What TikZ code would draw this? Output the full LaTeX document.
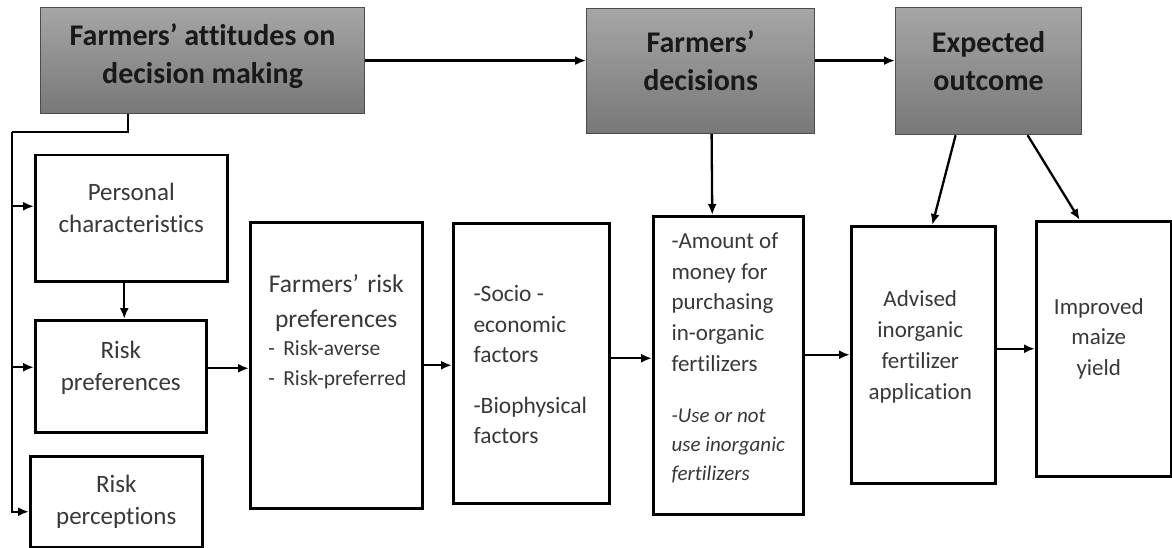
\documentclass[tikz,border=0pt]{standalone}
\usepackage{fontspec}
\setmainfont{Carlito}[Ligatures={NoCommon}]
\usetikzlibrary{positioning,calc,arrows.meta}

\tikzset{
  headbox/.style={draw=black!70,line width=1.2pt,top color=black!35,bottom color=black!53,anchor=north west,inner sep=0pt},
  plainbox/.style={draw,line width=2.5pt,anchor=north west,inner sep=0pt},
  headtxt/.style={align=center,font=\bfseries\fontsize{30}{38}\selectfont,text=black!90},
  bodytxt/.style={align=center,font=\fontsize{25}{32}\selectfont,text=black!78},
  sidetxt/.style={align=left,font=\fontsize{23.5}{30.5}\selectfont,text=black!78,anchor=north west},
  conn/.style={line width=2.3pt},
}

\begin{document}
\begin{tikzpicture}[x=1pt,y=-1pt,>={Latex[length=11pt,width=9pt]}]
  \useasboundingbox (0,0) rectangle (1172,548);
  % top row
  \node[headbox,minimum width=324pt,minimum height=106pt] (att) at (40,7) {};
  \node[headbox,minimum width=228pt,minimum height=125pt] (dec) at (586,8) {};
  \node[headbox,minimum width=186pt,minimum height=127pt] (exp) at (895,7) {};
  \node[headtxt] (att-t) at ($(att.center)+(0,-4)$) {Farmers’ attitudes on\\decision making};
  \node[headtxt] (dec-t) at ($(dec.center)+(0,-10)$) {Farmers’\\decisions};
  \node[headtxt] (exp-t) at ($(exp.center)+(0,-10)$) {Expected\\outcome};

  % left column
  \node[plainbox,minimum width=192pt,minimum height=126pt] (pers) at (34,154) {};
  \node[plainbox,minimum width=171pt,minimum height=112pt] (rpref) at (34,319) {};
  \node[plainbox,minimum width=172pt,minimum height=91pt] (rperc) at (29,455) {};
  \node[bodytxt] (pers-t) at ($(pers.center)+(0,-10)$) {Personal\\characteristics};
  \node[bodytxt] (rpref-t) at ($(rpref.center)+(0,-8)$) {Risk\\preferences};
  \node[bodytxt] (rperc-t) at (rperc.center) {Risk\\perceptions};

  % lower row
  \node[plainbox,minimum width=172pt,minimum height=286pt] (frp) at (249,221) {};
  \node[plainbox,minimum width=156pt,minimum height=280pt] (socio) at (452,222) {};
  \node[plainbox,minimum width=150pt,minimum height=298pt] (amt) at (652,215) {};
  \node[plainbox,minimum width=144pt,minimum height=257pt] (adv) at (850,225) {};
  \node[plainbox,minimum width=135pt,minimum height=255pt] (imp) at (1035,220) {};

  \node[bodytxt,text width=136pt,anchor=north,font=\fontsize{25.5}{33}\selectfont,below=50pt of frp.north] (frp-t)
    {Farmers’ risk\\[2pt] preferences\\[-5pt]
     \makebox[136pt][l]{\fontsize{21.5}{29}\selectfont - Risk-averse}\\[-3pt]
     \makebox[136pt][l]{\fontsize{21.5}{29}\selectfont - Risk-preferred}};
  \node[sidetxt,below right=60pt and 18pt of socio.north west] (socio-t)
    {-Socio -\\ economic\\ factors\\[20pt] -Biophysical\\ factors};
  \node[sidetxt,font=\fontsize{23}{30.7}\selectfont,below right=14pt and 16pt of amt.north west] (amt-t)
    {-Amount of\\ money for\\ purchasing\\ in-organic\\ fertilizers\\[21pt]
     {\itshape\fontsize{21}{29}\selectfont -Use or not}\\[-2pt]
     {\itshape\fontsize{21}{29}\selectfont use inorganic}\\[-2pt]
     {\itshape\fontsize{21}{29}\selectfont fertilizers}};
  \node[bodytxt,font=\fontsize{23}{31}\selectfont] (adv-t) at ($(adv.center)+(-3,-8)$)
    {Advised\\inorganic\\fertilizer\\application};
  \node[bodytxt,font=\fontsize{23}{30.5}\selectfont] (imp-t) at ($(imp.center)+(-5,-10)$)
    {Improved\\maize\\yield};

  % connectors
  \draw[conn,->] (att.east) -- (att.east -| dec.west);
  \draw[conn,->] (att.east -| dec.east) -- (att.east -| exp.west);
  \draw[conn,->] ($(dec.south)+(11,0)$) -- ($(amt.north)+(-16,0)$);
  \draw[conn,->] ($(exp.south)+(-33,0)$) -- ($(adv.north)+(9,0)$);
  \draw[conn,->] ($(exp.south)+(39,0)$) -- ($(imp.north)+(-24,0)$);

  \coordinate (bus) at (12,132);
  \coordinate (pa) at ($(pers.west)+(0,-12)$);
  \coordinate (ra) at ($(rpref.west)+(0,-9)$);
  \draw[conn] ($(att.south west)+(88,0)$) |- (bus);
  \draw[conn,->] (bus) |- ($(rperc.west)+(0,10)$);
  \draw[conn,->] (bus |- pa) -- (pa);
  \draw[conn,->] (bus |- ra) -- (ra);
  \draw[conn,->] ($(pers.south)+(-7,0)$) -- ($(rpref.north)+(3.5,0)$);

  \coordinate (rb) at ($(rpref.east)+(0,-8)$);
  \coordinate (sb) at ($(socio.east)+(0,-5)$);
  \draw[conn,->] (rb) -- (rb -| frp.west);
  \draw[conn,->] (frp.east) -- (frp.east -| socio.west);
  \draw[conn,->] (sb) -- (sb -| amt.west);
  \draw[conn,->] (adv.west -| amt.east) -- (adv.west);
  \draw[conn,->] (imp.west -| adv.east) -- (imp.west);
\end{tikzpicture}
\end{document}
